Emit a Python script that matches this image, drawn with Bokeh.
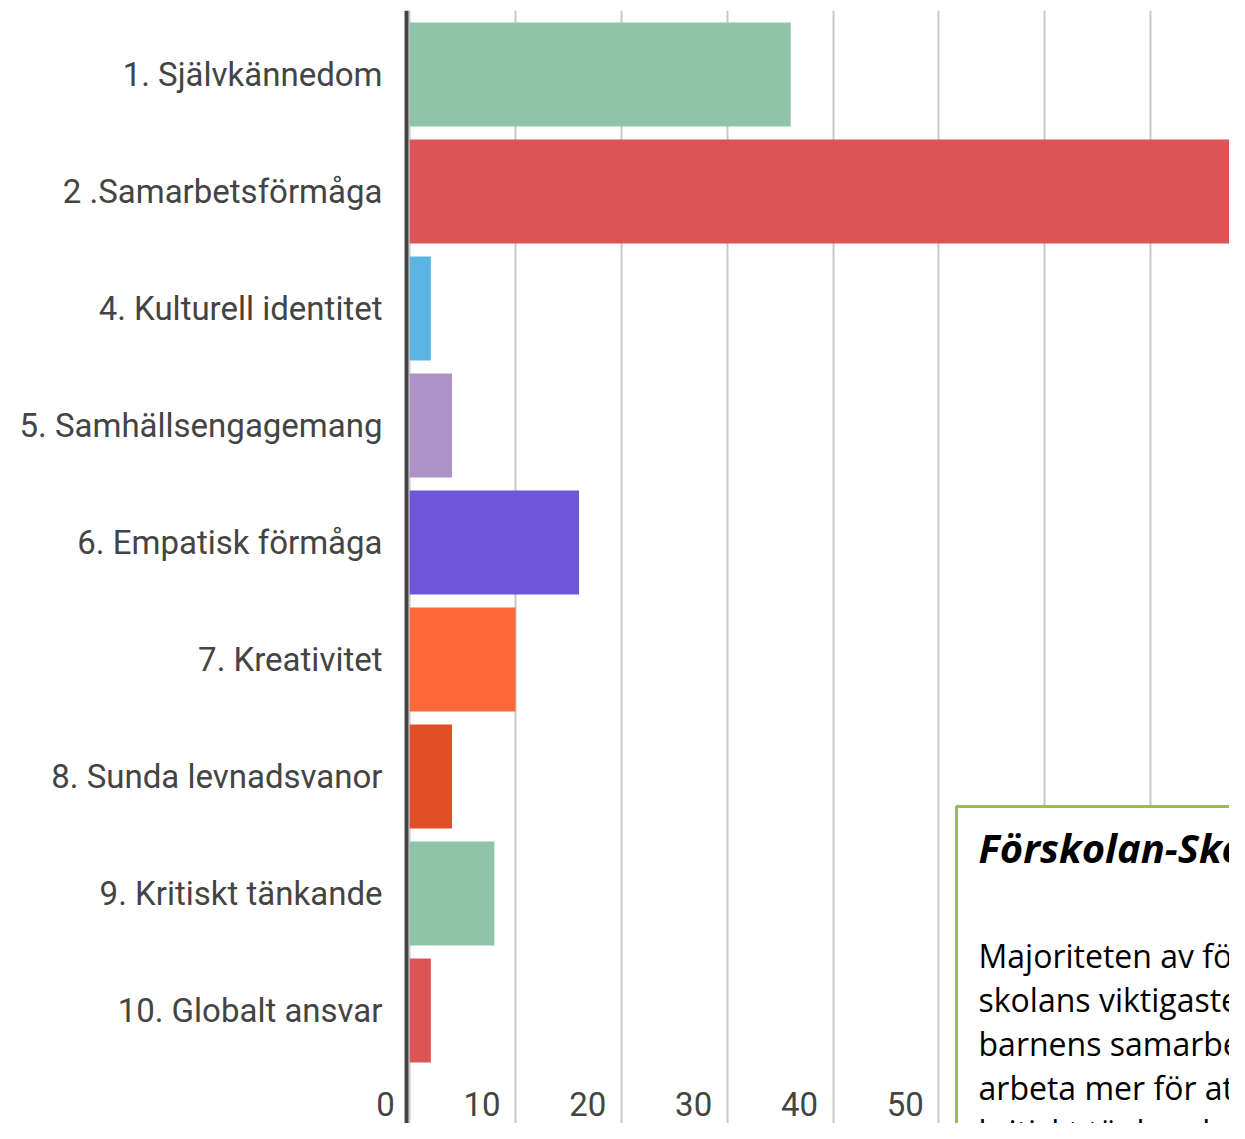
from bokeh.plotting import figure
from bokeh.models import (Range1d, FixedTicker, ColumnDataSource,
                          BoxAnnotation, Label, Span)
from bokeh.embed import file_html
from bokeh.resources import INLINE

# ---- data ----
categories = ["1. Självkännedom", "2 .Samarbetsförmåga", "4. Kulturell identitet",
              "5. Samhällsengagemang", "6. Empatisk förmåga", "7. Kreativitet",
              "8. Sunda levnadsvanor", "9. Kritiskt tänkande", "10. Globalt ansvar"]
values = [36, 85, 2, 4, 16, 10, 4, 8, 2]
colors = ["#8fc4a8", "#db5456", "#5ab5e3", "#ad92c8", "#6f55d8",
          "#fd6938", "#e24e25", "#8fc4a8", "#db5456"]
x_ticks = [0, 10, 20, 30, 40, 50, 60, 70]
x_tick_labels = ["0", "10", "20", "30", "40", "50", "60", "70"]

box_title = "Förskolan-Skolan"
box_lines = ["Majoriteten av förskolorna och",
             "skolans viktigaste uppgift är att utveckla",
             "barnens samarbetsförmåga. Vi behöver",
             "arbeta mer för att utveckla barnens",
             "kritiskt tänkande är viktigt"]

positions = list(range(len(categories)))

W, H = 1229, 1123
LEFT = 370
TOP = 10
ZERO_PX = 409.2
PX_PER_UNIT = 10.583
ROW_PX = 117.0
x_start = (LEFT - ZERO_PX) / PX_PER_UNIT
x_end = x_start + (W - LEFT) / PX_PER_UNIT
y_top = -0.547
y_bottom = y_top + (H - TOP) / ROW_PX

p = figure(width=W, height=H, output_backend="svg", toolbar_location=None,
           x_range=Range1d(x_start, x_end), y_range=Range1d(y_bottom, y_top),
           min_border_left=LEFT, min_border_top=TOP, min_border_bottom=0,
           min_border_right=0, background_fill_color="white",
           border_fill_color="white")
p.outline_line_color = None

src = ColumnDataSource(dict(y=positions, right=values, color=colors))
p.hbar(y="y", left=0, right="right", height=0.89, color="color", source=src,
       line_color=None)

# grid
p.xaxis.visible = False
p.xgrid.ticker = FixedTicker(ticks=x_ticks)
p.xgrid.grid_line_color = "#c8c8c8"
p.xgrid.grid_line_width = 2
p.ygrid.grid_line_color = None

# baseline at zero
p.add_layout(Span(location=-0.3, dimension="height", line_color="#444444",
                  line_width=4))

# y axis (categories)
ya = p.yaxis[0]
ya.ticker = FixedTicker(ticks=positions)
ya.major_label_overrides = {i: c for i, c in zip(positions, categories)}
ya.major_tick_line_color = None
ya.minor_tick_line_color = None
ya.axis_line_color = None
ya.major_label_standoff = -18
ya.major_label_text_font = "Roboto"
ya.major_label_text_font_size = "33px"
ya.major_label_text_color = "#444444"

# x tick labels row inside plot area
tick_row = len(categories) - 1 + 0.803
for xv, lab in zip(x_ticks, x_tick_labels):
    p.add_layout(Label(x=xv, y=tick_row, text=lab, text_align="right",
                       text_baseline="middle", x_offset=-15,
                       text_font="Roboto", text_font_size="33px",
                       text_color="#444444"))

# text box overlay
box = BoxAnnotation(left=51.67, right=x_end + 5, top=6.256, bottom=y_bottom + 5,
                    fill_color="white", fill_alpha=1.0, line_color="#9bbb59",
                    line_width=3, line_alpha=1.0, level="overlay")
p.add_layout(box)
p.add_layout(Label(x=53.75, y=6.607, text=box_title, text_font="Open Sans",
                   text_font_style="bold italic", text_font_size="40px",
                   text_color="black", text_baseline="middle", level="overlay"))
for i, line in enumerate(box_lines):
    p.add_layout(Label(x=53.75, y=7.53 + i * 0.376, text=line, text_font="Open Sans",
                       text_font_size="32px", text_color="black",
                       text_baseline="middle", level="overlay"))

open("out.html", "w").write(file_html(p, INLINE))
